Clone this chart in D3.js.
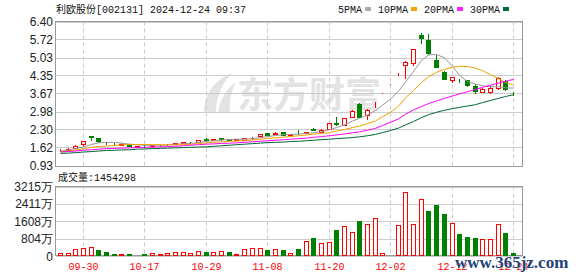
<!DOCTYPE html>
<html>
<head>
<meta charset="utf-8">
<title>利欧股份 K线</title>
<script src="https://cdn.jsdelivr.net/npm/d3@7/dist/d3.min.js"></script>
<style>
body, html {
  margin: 0;
  padding: 0;
  background: #fff;
}
svg {
  display: block;
}
.mono {
  font-family: "Liberation Mono", "Noto Sans CJK SC", monospace;
  font-size: 10px;
  fill: #111;
}
.axis-lbl {
  font-family: "Liberation Sans", Arial, sans-serif;
  font-size: 12px;
  fill: #222;
}
.date-lbl {
  font-family: "Liberation Mono", monospace;
  font-size: 10px;
  fill: #f00;
}
</style>
</head>
<body>
<script>
// ---- data ----
var title = "利欧股份[002131] 2024-12-24 09:37";
var volTitle = "成交量:1454298";

var open  = [1.50,1.53,1.61,1.76,2.04,1.97,1.80,1.75,1.72,1.72, 1.64,1.68,1.67,1.69,1.71,1.75,1.79,1.81,1.84,1.95,
             1.90,1.96,1.93,1.90,1.91,1.97,2.04,2.16,2.12,2.19, 2.08,2.20,2.16,2.33,2.21,2.33,2.53,2.47,2.78,3.27,
             2.84,3.33,3.67,4.04,4.44,4.74,4.83,5.88,5.70,4.94, 4.47,4.18,4.19,4.17,3.95,3.74,3.74,3.86,4.14,3.70];
var high  = [1.54,1.58,1.69,1.87,2.05,1.98,1.84,1.78,1.77,1.73, 1.68,1.70,1.70,1.72,1.75,1.80,1.83,1.83,1.91,1.96,
             1.93,1.96,1.94,1.93,1.97,2.02,2.13,2.17,2.19,2.20, 2.12,2.26,2.22,2.36,2.30,2.54,2.76,2.74,3.02,3.30,
             3.06,3.34,3.67,4.04,4.44,4.89,5.37,5.95,5.92,5.13, 4.53,4.30,4.22,4.18,4.03,3.86,3.95,4.30,4.16,3.74];
var low   = [1.47,1.52,1.60,1.72,1.90,1.84,1.74,1.70,1.70,1.66, 1.62,1.65,1.65,1.67,1.69,1.73,1.77,1.78,1.83,1.87,
             1.89,1.90,1.89,1.89,1.90,1.95,2.03,2.09,2.11,2.09, 2.07,2.14,2.15,2.26,2.20,2.32,2.48,2.45,2.76,2.76,
             2.70,3.16,3.67,4.04,4.36,4.24,4.75,5.57,5.18,4.67, 4.20,4.10,4.12,3.95,3.67,3.72,3.70,3.84,3.80,3.62];
var close = [1.52,1.57,1.68,1.86,2.03,1.86,1.78,1.73,1.74,1.67, 1.67,1.66,1.69,1.71,1.72,1.77,1.81,1.81,1.90,1.88,
             1.92,1.95,1.91,1.92,1.96,1.99,2.12,2.10,2.18,2.10, 2.11,2.19,2.21,2.27,2.27,2.53,2.50,2.72,3.00,2.79,
             3.04,3.34,3.67,4.04,4.44,4.88,5.37,5.76,5.19,4.67, 4.20,4.28,4.17,3.99,3.75,3.84,3.88,4.24,3.82,3.68];

// volume, 万
var volume = [140,140,310,357,404,280,186,93,93,93, 47,93,140,93,140,186,186,140,233,186,
              186,233,186,93,310,357,357,280,310,280, 140,326,683,839,606,637,1211,1398,1118,1631,
              1491,1755,140,47,1444,2966,1491,2640,2097,2376, 1926,1522,1040,885,839,792,792,1491,1072,145];
// 1 = up day (red hollow), 0 = down day (green)
var volUp = "111110001010111111101101111010101011011011111111000100011100";

var ma5  = [1.48,1.52,1.57,1.64,1.73,1.79,1.81,1.81,1.78,1.74, 1.71,1.70,1.70,1.70,1.71,1.74,1.76,1.77,1.80,1.85,
            1.87,1.90,1.92,1.93,1.93,1.95,1.99,2.03,2.07,2.10, 2.11,2.13,2.15,2.18,2.21,2.29,2.37,2.47,2.62,2.72,
            2.85,3.02,3.22,3.45,3.75,4.10,4.50,4.92,5.13,5.15, 5.02,4.70,4.35,4.12,4.02,3.96,3.92,3.92,3.88,3.87];
var ma10 = [1.45,1.48,1.52,1.57,1.62,1.65,1.67,1.69,1.71,1.73, 1.73,1.73,1.72,1.72,1.72,1.71,1.72,1.74,1.76,1.79,
            1.81,1.83,1.85,1.86,1.87,1.90,1.93,1.96,1.98,2.01, 2.03,2.06,2.09,2.12,2.15,2.18,2.24,2.30,2.37,2.43,
            2.52,2.62,2.78,2.95,3.18,3.50,3.78,4.08,4.30,4.47, 4.58,4.66,4.70,4.69,4.63,4.53,4.38,4.23,4.08,3.99];
var ma20 = [1.44,1.46,1.48,1.51,1.53,1.55,1.57,1.58,1.59,1.60, 1.61,1.62,1.63,1.64,1.65,1.66,1.68,1.70,1.72,1.74,
            1.75,1.77,1.78,1.79,1.81,1.83,1.85,1.87,1.89,1.91, 1.93,1.95,1.97,2.00,2.03,2.06,2.09,2.13,2.17,2.21,
            2.27,2.34,2.45,2.57,2.70,2.88,3.04,3.17,3.28,3.38, 3.48,3.57,3.65,3.73,3.82,3.90,3.98,4.06,4.13,4.20];
var ma30 = [1.39,1.40,1.42,1.44,1.46,1.48,1.50,1.51,1.52,1.53, 1.55,1.56,1.57,1.58,1.59,1.60,1.61,1.62,1.63,1.64,
            1.66,1.68,1.70,1.72,1.74,1.76,1.78,1.80,1.81,1.82, 1.84,1.85,1.87,1.89,1.91,1.93,1.95,1.97,1.99,2.02,
            2.06,2.11,2.18,2.26,2.35,2.47,2.60,2.75,2.86,2.95, 3.03,3.09,3.14,3.19,3.24,3.32,3.40,3.48,3.55,3.62];

var priceTicks = [0.93,1.62,2.30,2.98,3.67,4.35,5.03,5.72,6.40];
var volTicks = [0,804,1608,2411,3215];
var dateLabels = ["09-30","10-17","10-29","11-08","11-20","12-02","12-12","12-24"];
var dateIdx = [3,11,19,27,35,43,51,59];
var maNames = ["5PMA","10PMA","20PMA","30PMA"];
var maColors = ["#999999","#f0a000","#ff00ff","#006633"];
var maKeys = ["#aaaaaa","#f5a300","#ff22ff","#006b3c"];

// ---- layout ----
var W = 578, H = 276;
var left = 56, right = 522;
var pTop = 21.5, pBot = 165.5;
var vTop = 186.5, vBot = 256;
var n = close.length;

var svg = d3.select("body").append("svg")
  .attr("width", W).attr("height", H);

var x = d3.scaleBand()
  .domain(d3.range(n))
  .range([left, left + 7.68 * n]);
function cx(i) { return Math.round(x(i) + x.bandwidth() / 2); }

var y = d3.scaleLinear().domain([0.93, 6.40]).range([pBot, pTop]);
var yv = d3.scaleLinear().domain([0, 3215]).range([vBot, vTop]);

// watermark
var wm = svg.append("g").attr("fill", "#e3e3e3");
wm.append("path")
  .attr("d", "M204,112 C204,95 214,80 232,73 C222,84 216,96 216,112 Z M218,112 C220,99 227,88 236,82 C231,92 229,102 230,112 Z");
wm.append("text")
  .attr("x", 237).attr("y", 108)
  .style("font-family", "'Noto Sans CJK SC', sans-serif")
  .style("font-size", "36px").style("font-weight", "bold")
  .text("东方财富");

// grids
function grid(g, yTicks, ys, y0, y1) {
  g.selectAll("line.h").data(yTicks).enter().append("line")
    .attr("x1", left).attr("x2", right)
    .attr("y1", function(d) { return Math.round(ys(d)) + 0.5; })
    .attr("y2", function(d) { return Math.round(ys(d)) + 0.5; })
    .attr("stroke", "#cccccc");
  g.selectAll("line.v").data(dateIdx).enter().append("line")
    .attr("x1", function(d) { return cx(d) + 0.5; })
    .attr("x2", function(d) { return cx(d) + 0.5; })
    .attr("y1", y0).attr("y2", y1)
    .attr("stroke", "#cccccc")
    .attr("stroke-dasharray", "4,3");
}
grid(svg.append("g"), priceTicks, y, pTop, pBot);
grid(svg.append("g"), volTicks, yv, vTop, vBot);

// frames
svg.append("rect").attr("x", left - 0.5).attr("y", Math.round(pTop) - 0.5)
  .attr("width", right - left + 1).attr("height", Math.round(pBot) - Math.round(pTop) + 1)
  .attr("fill", "none").attr("stroke", "#999");
svg.append("rect").attr("x", left - 0.5).attr("y", Math.round(vTop) - 0.5)
  .attr("width", right - left + 1).attr("height", Math.round(vBot) - Math.round(vTop))
  .attr("fill", "none").attr("stroke", "#999");

// axis labels
svg.append("g").selectAll("text").data(priceTicks).enter().append("text")
  .attr("class", "axis-lbl")
  .attr("x", 53).attr("y", function(d) { return y(d) + 4.5; })
  .attr("text-anchor", "end")
  .text(function(d) { return d.toFixed(2); });

svg.append("g").selectAll("text").data(volTicks).enter().append("text")
  .attr("class", "axis-lbl")
  .attr("x", 53).attr("y", function(d) { return yv(d) + 4.5; })
  .attr("text-anchor", "end")
  .text(function(d) { return d === 0 ? "0" : d + "万"; });

svg.append("g").selectAll("text").data(dateIdx).enter().append("text")
  .attr("class", "date-lbl")
  .attr("x", function(d) { return cx(d) + 0.5; }).attr("y", 270)
  .attr("text-anchor", "middle")
  .text(function(d, i) { return dateLabels[i]; });

// title + legend
svg.append("text").attr("class", "mono").attr("x", 56).attr("y", 13).text(title);
svg.append("text").attr("class", "mono").attr("x", 58).attr("y", 181).text(volTitle);

var lx = 338;
maNames.forEach(function(name, i) {
  svg.append("text").attr("class", "mono").attr("x", lx).attr("y", 13).text(name);
  var sx = lx + name.length * 6 + 3;
  svg.append("rect").attr("x", sx).attr("y", 7).attr("width", 6).attr("height", 4)
    .attr("fill", maKeys[i]);
  lx = sx + 13;
});

// candles
function candleColor(i) {
  if (close[i] > open[i]) return "#ff0000";
  if (close[i] < open[i]) return "#008000";
  if (i === 0 || close[i] > close[i - 1]) return "#ff0000";
  if (close[i] < close[i - 1]) return "#008000";
  return "#000000";
}

var candles = svg.append("g").attr("shape-rendering", "crispEdges")
  .selectAll("g").data(d3.range(n)).enter().append("g");

candles.append("line")
  .attr("x1", function(i) { return cx(i) + 0.5; })
  .attr("x2", function(i) { return cx(i) + 0.5; })
  .attr("y1", function(i) { return Math.round(y(high[i])); })
  .attr("y2", function(i) { return Math.round(y(low[i])) + 1; })
  .attr("stroke", candleColor);

candles.append("rect")
  .attr("x", function(i) { return cx(i) - 2 + 0.5; })
  .attr("y", function(i) { return Math.round(y(Math.max(open[i], close[i]))) + 0.5; })
  .attr("width", 4)
  .attr("height", function(i) {
    return Math.max(0, Math.round(y(Math.min(open[i], close[i]))) - Math.round(y(Math.max(open[i], close[i]))));
  })
  .attr("fill", function(i) { return close[i] > open[i] ? "#fff" : candleColor(i); })
  .attr("stroke", candleColor);

// moving averages
[ma5, ma10, ma20, ma30].forEach(function(arr, k) {
  var line = d3.line()
    .x(function(d, i) { return cx(i) + 0.5; })
    .y(function(d) { return y(d); });
  svg.append("path")
    .datum(arr)
    .attr("d", line)
    .attr("fill", "none")
    .attr("stroke", maColors[k])
    .attr("stroke-width", 1);
});

// volume bars
svg.append("g").attr("shape-rendering", "crispEdges")
  .selectAll("rect").data(volume).enter().append("rect")
  .attr("x", function(d, i) { return cx(i) - 2 + 0.5; })
  .attr("y", function(d) { return Math.round(yv(d)) + 0.5; })
  .attr("width", 4)
  .attr("height", function(d) { return Math.max(0, Math.round(vBot) - 1 - Math.round(yv(d))); })
  .attr("fill", function(d, i) { return volUp[i] === "1" ? "#fff" : "#008000"; })
  .attr("stroke", function(d, i) { return volUp[i] === "1" ? "#ff0000" : "#008000"; });

// site stamp
svg.append("text")
  .attr("x", 455).attr("y", 268)
  .style("font-family", "'Liberation Serif', serif")
  .style("font-size", "17px").style("font-weight", "bold")
  .attr("fill", "#24427a")
  .attr("stroke", "#fff").attr("stroke-width", 0.6).attr("paint-order", "stroke")
  .text("www.365jz.com");
</script>
</body>
</html>
